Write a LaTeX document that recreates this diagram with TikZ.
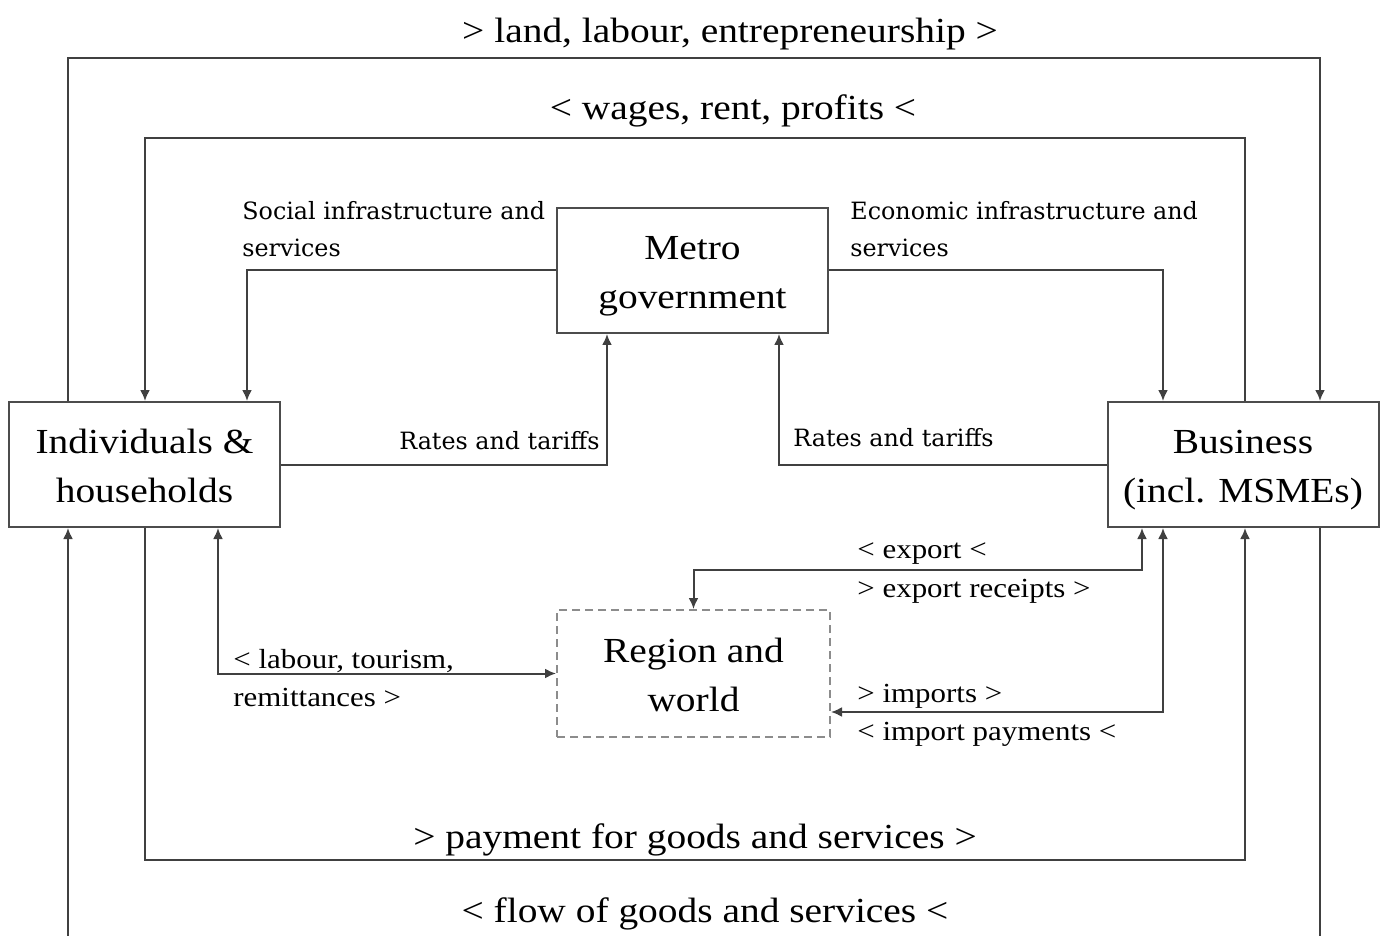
\documentclass[tikz,border=0pt]{standalone}
\usepackage{fontspec}
\setmainfont{Liberation Serif}[FakeStretch=1.12]
\newfontfamily\labelfont{DejaVu Serif}
\usetikzlibrary{arrows.meta}
% invisible rules that fix the height and depth of the two-line box texts
\newcommand\bxtop{\rule{0pt}{20.6pt}}
\newcommand\bxbot{\rule[-7.35pt]{0pt}{7.35pt}}
\begin{document}
\begin{tikzpicture}[x=0.5pt,y=-0.5pt,
  line/.style={line width=1pt,draw=black!75},
  arr/.style={line,-{Latex[length=5.5pt,width=5pt]}},
  darr/.style={line,{Latex[length=5.5pt,width=5pt]}-{Latex[length=5.5pt,width=5pt]}},
  box/.style={draw=black!70,line width=1pt,inner sep=0pt,minimum width=135.5pt,
    minimum height=62.5pt,align=center,font=\fontsize{17.6}{24.5}\selectfont},
  big/.style={font=\fontsize{17.6}{22}\selectfont,inner sep=0pt},
  small/.style={font=\fontsize{13.8}{18.75}\selectfont,inner sep=0pt,align=left},
  wide/.style={font=\labelfont\fontsize{11.9}{18.75}\selectfont,inner sep=0pt,align=left}]
\useasboundingbox (0,0) rectangle (1382,936);
\clip (0,0) rectangle (1382,936);

% actors
\node[box] (ind) at (144.5,464.5) {\bxtop Individuals \&\\households\bxbot};
\node[box] (bus) at (1243,464.5) {\bxtop Business\\(incl. MSMEs)\bxbot};
\node[box] (gov) at (692.5,270.5) {\bxtop Metro\\government\bxbot};
\node[box,dashed,draw=black!45,dash pattern=on 4pt off 2.5pt,
  minimum width=136.5pt,minimum height=63.5pt] (reg) at (693.5,673.5) {\bxtop Region and\\world\bxbot};

% columns where connectors meet the boxes
\coordinate (xa) at (68,0);
\coordinate (xb) at (145,0);
\coordinate (xc) at (247,0);
\coordinate (xd) at (218,0);
\coordinate (xe) at (607,0);
\coordinate (xf) at (779,0);
\coordinate (xg) at (1142,0);
\coordinate (xh) at (1163,0);
\coordinate (xi) at (1245,0);
\coordinate (xj) at (1320,0);
\coordinate (yimp) at (0,712);

% circular flow between households and business
\draw[arr] (ind.north -| xa) |- (1320,58) -- (bus.north -| xj);
\draw[arr] (bus.north -| xi) |- (145,138) -- (ind.north -| xb);
\draw[arr] (ind.south -| xb) |- (1245,860) -- (bus.south -| xi);
\draw[arr] (bus.south -| xj) |- (68,960) -- (ind.south -| xa);

% metro government
\draw[arr] (gov.west) -| (ind.north -| xc);
\draw[arr] (gov.east) -| (bus.north -| xh);
\draw[arr] (ind.east) -| (gov.south -| xe);
\draw[arr] (bus.west) -| (gov.south -| xf);

% region and world
\draw[darr] (ind.south -| xd) |- (reg.west);
\draw[darr] (bus.south -| xg) |- (693.5,570) -- (reg.north);
\draw[darr] (bus.south -| xh) |- (reg.east |- yimp);

% labels
\node[big] (t1) at (730,34) {> land, labour, entrepreneurship >};
\node[big] (t2) at (733,111) {< wages, rent, profits <};
\node[big] (t3) at (695,840) {> payment for goods and services >};
\node[big] (t4) at (705,914) {< flow of goods and services <};
\node[wide,anchor=west] (s1) at (242,229) {Social infrastructure and\\services};
\node[wide,anchor=west] (s2) at (850,229) {Economic infrastructure and\\services};
\node[wide,anchor=east] (s3) at (600,441) {Rates and tariffs};
\node[wide,anchor=west] (s4) at (793,438) {Rates and tariffs};
\node[small,anchor=west] (s5) at (857,554) {< export <};
\node[small,anchor=west] (s6) at (857,591) {> export receipts >};
\node[small,anchor=west] (s7) at (857,696) {> imports >};
\node[small,anchor=west] (s8) at (857,734) {< import payments <};
\node[small,anchor=west] (s9) at (233,678) {< labour, tourism,\\remittances >};
\end{tikzpicture}
\end{document}
